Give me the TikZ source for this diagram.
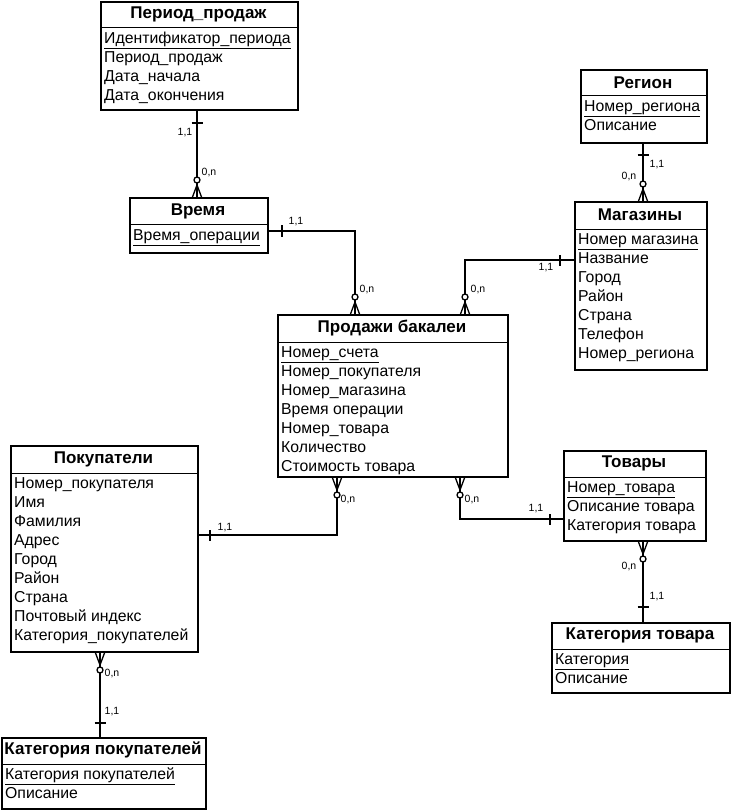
\documentclass[tikz,border=0pt]{standalone}
\usepackage{fontspec}
\setmainfont{Liberation Sans}
\usepackage{tikz}

\begin{document}
\begin{tikzpicture}[x=1pt, y=-1pt,
    box/.style={draw, line width=2pt, anchor=north west, inner sep=0pt},
    title/.style={font=\fontsize{17}{19}\selectfont\bfseries, inner sep=0pt},
    sep/.style={line width=1pt},
    attrs/.style={anchor=north west, align=left, inner xsep=4pt, inner ysep=4pt, font=\fontsize{15.8}{19}\selectfont},
    rel/.style={line width=2pt},
    card/.style={font=\fontsize{10.5}{11}\selectfont, inner sep=0pt},
    many/.pic={
      \draw[line width=1.3pt] (-4.5,0) -- (0,-12) -- (4.5,0) (0,0) -- (0,-12);
      \draw[line width=1.3pt, fill=white] (0,-17) circle (3pt);
    },
    one/.pic={
      \draw[line width=1.5pt] (-5.5,0) -- (5.5,0);
    }]
  \useasboundingbox (0,0) rectangle (730,810);

  % Period_prodazh
  \node[box, minimum width=197pt, minimum height=108pt] (period) at (100,1) {};
  \node[title] (period-t) at (198.5,14.5) {Период\_продаж};
  \draw[sep] (period.west |- 0,28) -- (period.east |- 0,28);
  \node[attrs] (period-a) at (100,28) {\underline{Идентификатор\_периода}\\Период\_продаж\\Дата\_начала\\Дата\_окончения};

  % Vremya
  \node[box, minimum width=138pt, minimum height=55pt] (time) at (129,197) {};
  \node[title] (time-t) at (198,211) {Время};
  \draw[sep] (time.west |- 0,225) -- (time.east |- 0,225);
  \node[attrs] (time-a) at (129,225) {\underline{Время\_операции}};

  % Region
  \node[box, minimum width=126pt, minimum height=73pt] (region) at (580,69) {};
  \node[title] (region-t) at (643,82.5) {Регион};
  \draw[sep] (region.west |- 0,96) -- (region.east |- 0,96);
  \node[attrs] (region-a) at (580,96) {\underline{Номер\_региона}\\Описание};

  % Magaziny
  \node[box, minimum width=132pt, minimum height=168pt] (shops) at (574,201) {};
  \node[title] (shops-t) at (640,215) {Магазины};
  \draw[sep] (shops.west |- 0,229) -- (shops.east |- 0,229);
  \node[attrs] (shops-a) at (574,229) {\underline{Номер магазина}\\Название\\Город\\Район\\Страна\\Телефон\\Номер\_региона};

  % Prodazhi bakalei
  \node[box, minimum width=230pt, minimum height=162pt] (sales) at (277,314) {};
  \node[title] (sales-t) at (392,328) {Продажи бакалеи};
  \draw[sep] (sales.west |- 0,342) -- (sales.east |- 0,342);
  \node[attrs] (sales-a) at (277,342) {\underline{Номер\_счета}\\Номер\_покупателя\\Номер\_магазина\\Время операции\\Номер\_товара\\Количество\\Стоимость товара};

  % Pokupateli
  \node[box, minimum width=187pt, minimum height=206pt] (buyers) at (10,445) {};
  \node[title] (buyers-t) at (103.5,459) {Покупатели};
  \draw[sep] (buyers.west |- 0,473) -- (buyers.east |- 0,473);
  \node[attrs] (buyers-a) at (10,473) {Номер\_покупателя\\Имя\\Фамилия\\Адрес\\Город\\Район\\Страна\\Почтовый индекс\\Категория\_покупателей};

  % Tovary
  \node[box, minimum width=142pt, minimum height=90pt] (goods) at (563,450) {};
  \node[title] (goods-t) at (634,463.5) {Товары};
  \draw[sep] (goods.west |- 0,477) -- (goods.east |- 0,477);
  \node[attrs] (goods-a) at (563,477) {\underline{Номер\_товара}\\Описание товара\\Категория товара};

  % Kategoriya tovara
  \node[box, minimum width=178pt, minimum height=70pt] (gcat) at (551,622) {};
  \node[title] (gcat-t) at (640,635.5) {Категория товара};
  \draw[sep] (gcat.west |- 0,649) -- (gcat.east |- 0,649);
  \node[attrs] (gcat-a) at (551,649) {\underline{Категория}\\Описание};

  % Kategoriya pokupatelei
  \node[box, minimum width=204pt, minimum height=71pt] (bcat) at (1,737) {};
  \node[title] (bcat-t) at (103,750) {Категория покупателей};
  \draw[sep] (bcat.west |- 0,764) -- (bcat.east |- 0,764);
  \node[attrs] (bcat-a) at (1,764) {\underline{Категория покупателей}\\Описание};

  % Period -- Vremya
  \draw[rel] (197,0 |- period.south) -- (197,0 |- time.north);
  \pic at (197,123) {one};
  \pic at (197,0 |- time.north) {many};
  \node[card] (c1a) at (185,133) {1,1};
  \node[card] (c1b) at (209,173) {0,n};

  % Vremya -- Prodazhi
  \draw[rel] (time.east |- 0,231) -- (355,231) -- (355,0 |- sales.north);
  \pic[rotate=90] at (282,231) {one};
  \pic at (355,0 |- sales.north) {many};
  \node[card] (c2a) at (296,222) {1,1};
  \node[card] (c2b) at (367,290) {0,n};

  % Magaziny -- Prodazhi
  \draw[rel] (shops.west |- 0,260) -- (465,260) -- (465,0 |- sales.north);
  \pic[rotate=90] at (560,260) {one};
  \pic at (465,0 |- sales.north) {many};
  \node[card] (c3a) at (546,268) {1,1};
  \node[card] (c3b) at (478,290) {0,n};

  % Region -- Magaziny
  \draw[rel] (643,0 |- region.south) -- (643,0 |- shops.north);
  \pic at (643,155) {one};
  \pic at (643,0 |- shops.north) {many};
  \node[card] (c4a) at (657,165) {1,1};
  \node[card] (c4b) at (629,177) {0,n};

  % Prodazhi -- Pokupateli
  \draw[rel] (337,0 |- sales.south) -- (337,535) -- (buyers.east |- 0,535);
  \pic[rotate=180] at (337,0 |- sales.south) {many};
  \pic[rotate=90] at (210,535) {one};
  \node[card] (c5a) at (225,528) {1,1};
  \node[card] (c5b) at (348,500) {0,n};

  % Prodazhi -- Tovary
  \draw[rel] (460,0 |- sales.south) -- (460,519) -- (goods.west |- 0,519);
  \pic[rotate=180] at (460,0 |- sales.south) {many};
  \pic[rotate=90] at (550,519) {one};
  \node[card] (c6a) at (536,509) {1,1};
  \node[card] (c6b) at (472,500) {0,n};

  % Tovary -- Kategoriya tovara
  \draw[rel] (643,0 |- goods.south) -- (643,0 |- gcat.north);
  \pic[rotate=180] at (643,0 |- goods.south) {many};
  \pic at (643,607) {one};
  \node[card] (c7a) at (657,597) {1,1};
  \node[card] (c7b) at (629,566) {0,n};

  % Pokupateli -- Kategoriya pokupatelei
  \draw[rel] (100,0 |- buyers.south) -- (100,0 |- bcat.north);
  \pic[rotate=180] at (100,0 |- buyers.south) {many};
  \pic at (100,723) {one};
  \node[card] (c8a) at (112,712) {1,1};
  \node[card] (c8b) at (112,673) {0,n};
\end{tikzpicture}
\end{document}
